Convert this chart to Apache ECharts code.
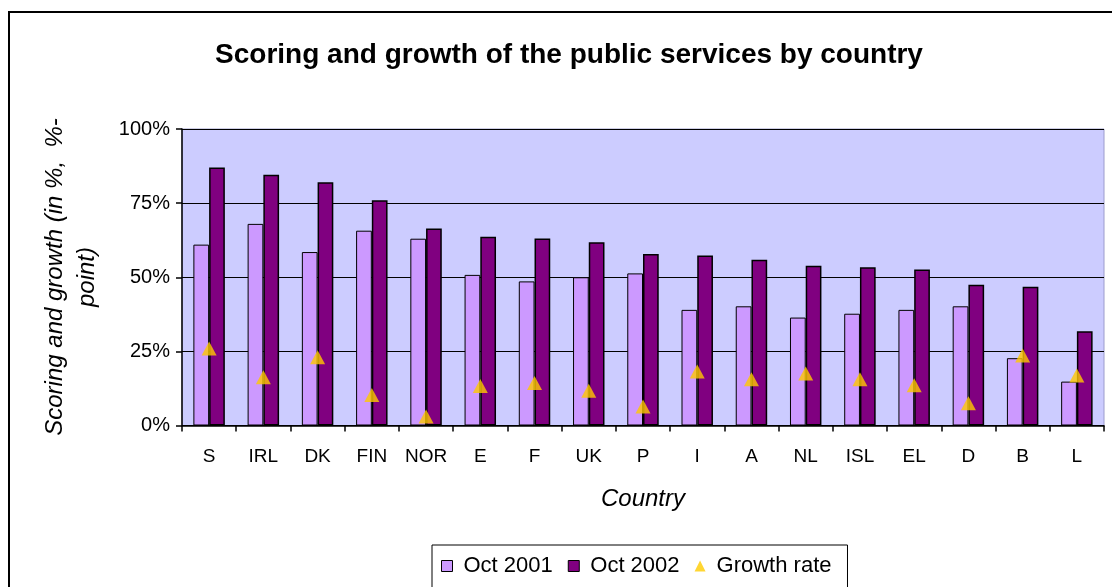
<!DOCTYPE html>
<html>
<head>
<meta charset="utf-8">
<script src="https://cdn.jsdelivr.net/npm/echarts@6/dist/echarts.min.js"></script>
<style>
  html, body { margin: 0; padding: 0; background: #ffffff; }
  #chart { width: 1112px; height: 587px; }
</style>
</head>
<body>
<div id="chart"></div>
<script>
// Country codes along the x axis
const countries = ['S', 'IRL', 'DK', 'FIN', 'NOR', 'E', 'F', 'UK', 'P', 'I', 'A', 'NL', 'ISL', 'EL', 'D', 'B', 'L'];
// Scores in percent
const oct2001 = [61, 68, 58.5, 65.7, 63, 50.8, 48.6, 50, 51.3, 39, 40.2, 36.4, 37.7, 39, 40.2, 22.7, 14.8];
const oct2002 = [87, 84.6, 82, 76, 66.4, 63.7, 63.1, 61.8, 57.8, 57.3, 55.9, 53.9, 53.4, 52.6, 47.5, 46.8, 31.8];
// Growth in percentage points
const growth = [26, 16.3, 23, 10.3, 3, 13.3, 14.3, 11.7, 6.4, 18.2, 15.6, 17.5, 15.6, 13.6, 7.5, 23.6, 16.9];
// Value axis ticks
const yTicks = [0, 25, 50, 75, 100];

const FONT = '"Liberation Sans", Arial, sans-serif';

const chart = echarts.init(document.getElementById('chart'), null, { renderer: 'canvas' });

chart.setOption({
  animation: false,
  backgroundColor: '#ffffff',
  textStyle: { fontFamily: FONT, color: '#000' },
  title: {
    text: 'Scoring and growth of the public services by country',
    left: 564, top: 36, textAlign: 'center',
    textStyle: { fontFamily: FONT, fontSize: 28, fontWeight: 'bold', color: '#000' }
  },
  legend: {
    left: 432, top: 545,
    padding: [10, 16, 40, 9],
    borderColor: '#000', borderWidth: 1,
    itemGap: 15,
    itemWidth: 11, itemHeight: 11,
    textStyle: { fontFamily: FONT, fontSize: 22, color: '#000', padding: [0, 0, 0, 6] },
    data: [
      { name: 'Oct 2001', icon: 'rect', itemStyle: { color: '#CC99FF', borderColor: '#000', borderWidth: 1 } },
      { name: 'Oct 2002', icon: 'rect', itemStyle: { color: '#800080', borderColor: '#000', borderWidth: 1 } },
      { name: 'Growth rate', icon: 'triangle', itemStyle: { color: '#FFCC00', borderWidth: 0 } }
    ]
  },
  grid: {
    left: 182, right: 8, top: 129, bottom: 161.5,
    show: true, backgroundColor: '#CCCCFF', borderColor: '#9C9CCC', borderWidth: 1,
    containLabel: false
  },
  graphic: [
    {
      type: 'rect', silent: true, z: 100,
      shape: { x: 9, y: 12, width: 1200, height: 700 },
      style: { fill: null, stroke: '#000', lineWidth: 2 }
    },
    {
      type: 'text', silent: true,
      x: 71, y: 277, rotation: Math.PI / 2,
      style: {
        text: 'Scoring and growth (in %,  %-\npoint)',
        fontFamily: FONT, fontSize: 24, fontStyle: 'italic', fill: '#000',
        align: 'center', verticalAlign: 'middle', lineHeight: 32
      }
    }
  ],
  xAxis: {
    type: 'category',
    data: countries,
    name: 'Country', nameLocation: 'middle', nameGap: 62,
    nameTextStyle: { fontFamily: FONT, fontSize: 24, fontStyle: 'italic', color: '#000' },
    axisLine: { lineStyle: { color: '#000', width: 1.5 } },
    axisTick: { show: true, interval: 0, length: 6, inside: false, lineStyle: { color: '#000', width: 1.5 } },
    axisLabel: { interval: 0, fontFamily: FONT, fontSize: 19, color: '#000', margin: 22 },
    splitLine: { show: false }
  },
  yAxis: {
    type: 'value', min: 0, max: 100, interval: 25,
    axisLine: { show: true, lineStyle: { color: '#000', width: 1.5 } },
    axisTick: { show: true, length: 6, lineStyle: { color: '#000', width: 1.5 } },
    axisLabel: {
      fontFamily: FONT, fontSize: 20, color: '#000', margin: 12,
      formatter: v => (yTicks.includes(v) ? v + '%' : '')
    },
    splitLine: { show: true, lineStyle: { color: '#000', width: 1 } }
  },
  series: [
    {
      name: 'Oct 2001', type: 'bar', data: oct2001,
      barGap: '0%', barCategoryGap: '42%',
      itemStyle: { color: '#CC99FF', borderColor: '#000', borderWidth: 1 }
    },
    {
      name: 'Oct 2002', type: 'bar', data: oct2002,
      barGap: '0%', barCategoryGap: '42%',
      itemStyle: { color: '#800080', borderColor: '#000', borderWidth: 1.5 }
    },
    {
      name: 'Growth rate', type: 'scatter', data: growth,
      symbol: 'triangle', symbolSize: [15, 14], z: 5,
      itemStyle: { color: '#FFC800' }
    }
  ]
});
</script>
</body>
</html>
